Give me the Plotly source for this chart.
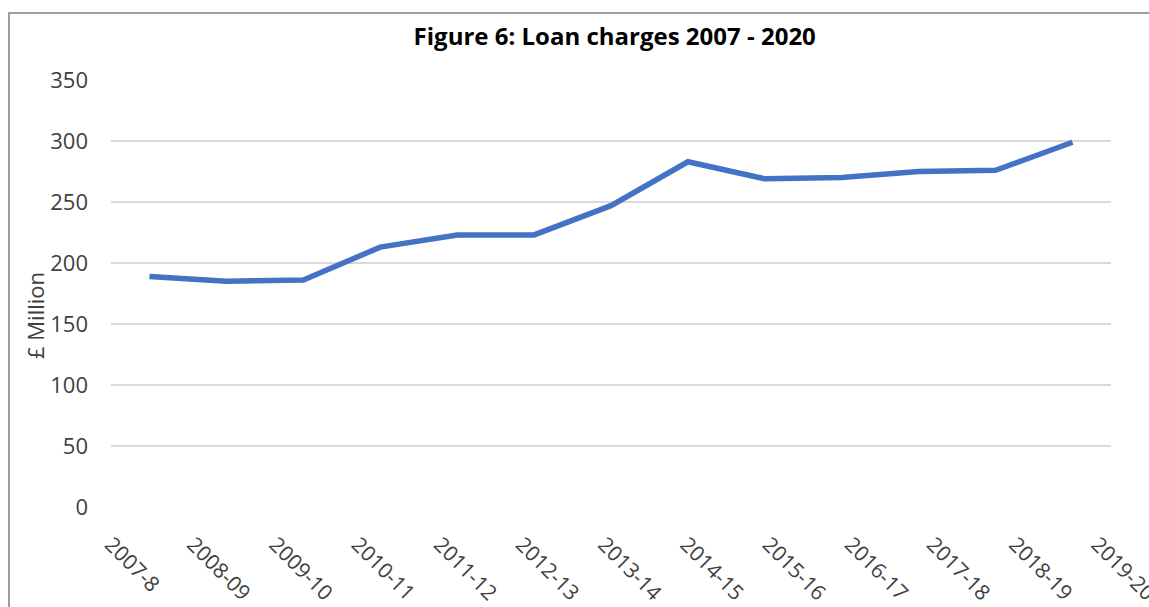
import plotly.graph_objects as go

# Financial years and loan charges (£ million)
years = ["2007-8", "2008-09", "2009-10", "2010-11", "2011-12", "2012-13", "2013-14",
         "2014-15", "2015-16", "2016-17", "2017-18", "2018-19", "2019-20"]
loan_charges = [189, 185, 186, 213, 223, 223, 247, 283, 269, 270, 275, 276, 299]
y_ticks = [0, 50, 100, 150, 200, 250, 300, 350]

FONT = "Open Sans"
TICK_COLOR = "#404040"

fig = go.Figure()
fig.add_trace(go.Scatter(
    x=years, y=loan_charges, mode="lines",
    line=dict(color="#4472C4", width=5.5),
    hoverinfo="x+y",
))

# Year labels sit on their own slightly wider-spaced axis under the plot
label_positions = list(range(len(years)))

fig.update_layout(
    width=1149, height=607,
    margin=dict(l=111, r=38, t=80, b=100, autoexpand=False),
    paper_bgcolor="white", plot_bgcolor="white",
    showlegend=False,
    title=dict(
        text="<b>Figure 6: Loan charges 2007 - 2020</b>",
        x=0.535, xanchor="center", y=0.94, yanchor="middle",
        font=dict(family=FONT, size=24, color="black"),
    ),
    xaxis=dict(
        type="category", range=[-0.5, len(years) - 0.5],
        showgrid=False, zeroline=False, showline=False,
        showticklabels=False, ticks="", automargin=False,
    ),
    xaxis2=dict(
        overlaying="x", anchor="y", side="bottom",
        range=[0, 12.165], tickmode="array",
        tickvals=label_positions, ticktext=years,
        showgrid=False, zeroline=False, showline=False, ticks="",
        tickangle=45, automargin=False, ticklabeloverflow="allow",
        tickfont=dict(family=FONT, size=21, color=TICK_COLOR),
        ticklabelshift=0, ticklabelstandoff=20,
    ),
    yaxis=dict(
        range=[0, 350], tickvals=y_ticks,
        showgrid=True, gridcolor="#d9d9d9", gridwidth=1.8,
        zeroline=False, showline=False, ticks="", automargin=False,
        tickfont=dict(family=FONT, size=22, color=TICK_COLOR),
        ticklabelstandoff=22,
    ),
    shapes=[dict(
        type="rect", xref="paper", yref="paper",
        x0=-0.102, x1=1.06, y0=-0.3, y1=1.157,
        line=dict(color="#808080", width=1.5), fillcolor="rgba(0,0,0,0)",
        layer="below",
    )],
    annotations=[dict(
        text="£ Million", textangle=-90,
        xref="paper", yref="paper",
        x=(35 - 111) / 1000, y=(507 - 316) / 427,
        xanchor="center", yanchor="middle", showarrow=False,
        font=dict(family=FONT, size=22, color=TICK_COLOR),
    )],
)

# Invisible carrier so the label axis is drawn
fig.add_trace(go.Scatter(
    x=[label_positions[0]], y=[None], xaxis="x2", yaxis="y",
    mode="markers", showlegend=False, hoverinfo="skip",
))

fig.write_html("out.html")
